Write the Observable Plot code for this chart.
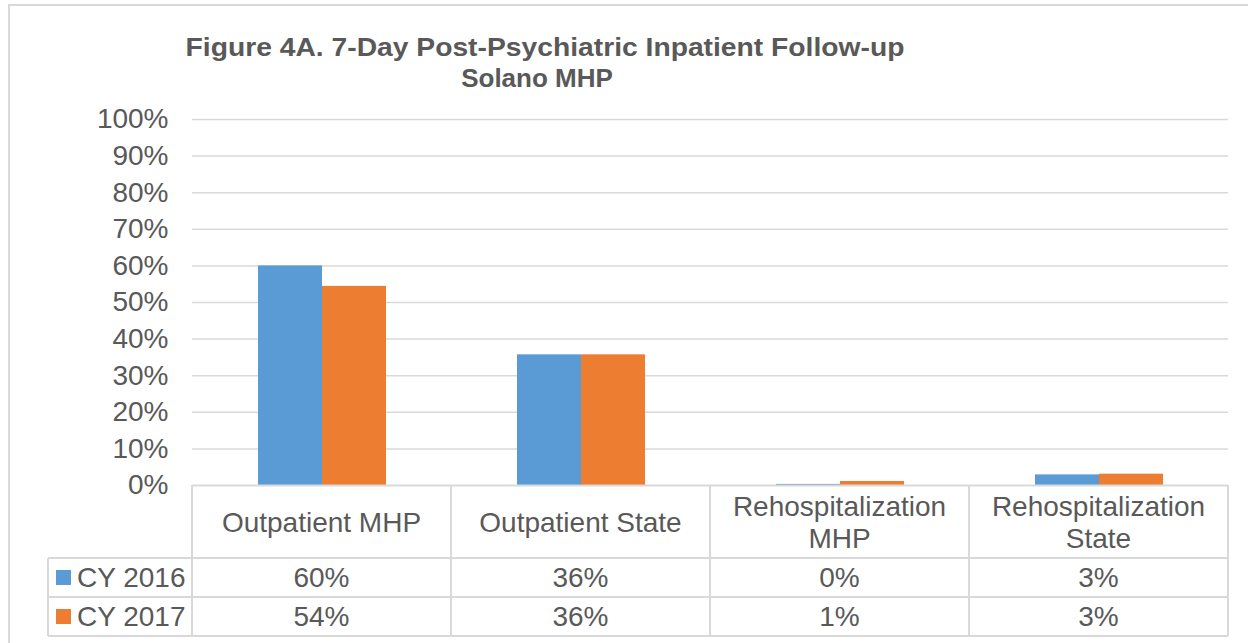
<!DOCTYPE html>
<html><head><meta charset="utf-8">
<script src="https://cdn.jsdelivr.net/npm/d3@7"></script>
<script src="https://cdn.jsdelivr.net/npm/@observablehq/plot@0.6"></script>
<style>
html,body{margin:0;padding:0;background:#fff;overflow:hidden;}
#wrap{position:relative;width:1248px;height:643px;font-family:"Liberation Sans",Arial,sans-serif;color:#595959;overflow:hidden;}
#frame{position:absolute;left:8px;top:4px;width:1300px;height:700px;border:2px solid #D9D9D9;box-sizing:border-box;}
.title{position:absolute;left:0;text-align:center;font-weight:bold;font-size:25px;line-height:31px;white-space:nowrap;}
#t1{top:32px;width:1090px;transform:scaleX(1.13);}
#t2{top:63px;width:1074px;transform:scaleX(1.04);}
#chart{position:absolute;left:0;top:0;}
#table{position:absolute;left:0;top:0;width:1248px;height:643px;pointer-events:none;}
.cell{position:absolute;display:flex;align-items:center;justify-content:center;text-align:center;box-sizing:border-box;font-size:28px;line-height:32px;}
.hl{position:absolute;height:0;border-top:2px solid #D9D9D9;}
.vl{position:absolute;width:0;border-left:2px solid #D9D9D9;}
.sw{display:inline-block;width:15px;height:15px;margin-right:6px;}
</style></head>
<body><div id="wrap"><div id="frame"></div><div class="title" id="t1">Figure 4A. 7-Day Post-Psychiatric Inpatient Follow-up</div><div class="title" id="t2">Solano MHP</div><div id="chart"></div><div id="table"></div></div>
<script>
const categories = ["Outpatient MHP", "Outpatient State", "Rehospitalization MHP", "Rehospitalization State"];
const categoryLines = [["Outpatient MHP"], ["Outpatient State"], ["Rehospitalization", "MHP"], ["Rehospitalization", "State"]];
const seriesNames = ["CY 2016", "CY 2017"];
const cy2016 = [0.600, 0.357, 0.003, 0.029];
const cy2017 = [0.544, 0.357, 0.011, 0.031];
const seriesValues = [cy2016, cy2017];
const yTicks = [0, 0.1, 0.2, 0.3, 0.4, 0.5, 0.6, 0.7, 0.8, 0.9, 1];
const colors = ["#5B9BD5", "#ED7D31"];

const rows = [];
categories.forEach((c, i) => seriesNames.forEach((s, j) => rows.push({category: c, series: s, value: seriesValues[j][i]})));

const W = 1248, H = 643;
const plot = Plot.plot({
  width: W, height: H,
  marginTop: 119, marginBottom: H - 485, marginLeft: 192, marginRight: 20,
  style: {fontFamily: "'Liberation Sans', Arial, sans-serif", fontSize: "28px", color: "#595959", background: "transparent"},
  fx: {domain: categories, padding: 0, axis: null},
  x: {domain: seriesNames, paddingInner: 0, paddingOuter: 1.02, axis: null},
  y: {domain: [0, 1], ticks: yTicks, tickFormat: d => Math.round(d * 100) + "%", tickSize: 0, tickPadding: 24, label: null},
  color: {domain: seriesNames, range: colors},
  marks: [
    Plot.ruleY(yTicks.slice(1), {stroke: "#D9D9D9", strokeWidth: 1.5, strokeOpacity: 1}),
    Plot.barY(rows, {fx: "category", x: "series", y: "value", fill: "series", inset: 0}),
    Plot.ruleY([0], {stroke: "#D9D9D9", strokeWidth: 2})
  ]
});
document.getElementById("chart").appendChild(plot);
plot.querySelectorAll("[aria-label='y-axis tick label'] text").forEach(t => t.setAttribute("fill", "#595959"));

// data table positioned from the fx scale
const fx = plot.scale("fx");
const y = plot.scale("y");
const y0 = y.apply(0);
const bw = fx.bandwidth;
const left = 48;
const rowTops = [y0, 558, 597, 636];
const tbl = document.getElementById("table");
function add(cls, style, html) { const d = document.createElement("div"); d.className = cls; Object.assign(d.style, style); if (html != null) d.innerHTML = html; tbl.appendChild(d); }
const xs = categories.map(c => fx.apply(c));
const xRight = xs[xs.length - 1] + bw;
[rowTops[1], rowTops[2], rowTops[3]].forEach(t => add("hl", {left: left + "px", top: (t - 1) + "px", width: (xRight - left) + "px"}));
xs.concat([xRight]).forEach(x => add("vl", {left: (x - 1) + "px", top: y0 + "px", height: (rowTops[3] - y0) + "px"}));
add("vl", {left: (left - 1) + "px", top: rowTops[1] + "px", height: (rowTops[3] - rowTops[1]) + "px"});
categories.forEach((c, i) => add("cell", {left: xs[i] + "px", top: (y0 + 2) + "px", width: bw + "px", height: (rowTops[1] - y0 - 2) + "px"}, categoryLines[i].join("<br>")));
seriesNames.forEach((s, j) => {
  add("cell", {left: left + "px", top: rowTops[j + 1] + "px", width: (xs[0] - left) + "px", height: (rowTops[j + 2] - rowTops[j + 1]) + "px", justifyContent: "flex-start", paddingLeft: "8px"}, `<span class="sw" style="background:${colors[j]}"></span>${s}`);
  categories.forEach((c, i) => add("cell", {left: xs[i] + "px", top: rowTops[j + 1] + "px", width: bw + "px", height: (rowTops[j + 2] - rowTops[j + 1]) + "px"}, Math.round(seriesValues[j][i] * 100) + "%"));
});
</script></body></html>
